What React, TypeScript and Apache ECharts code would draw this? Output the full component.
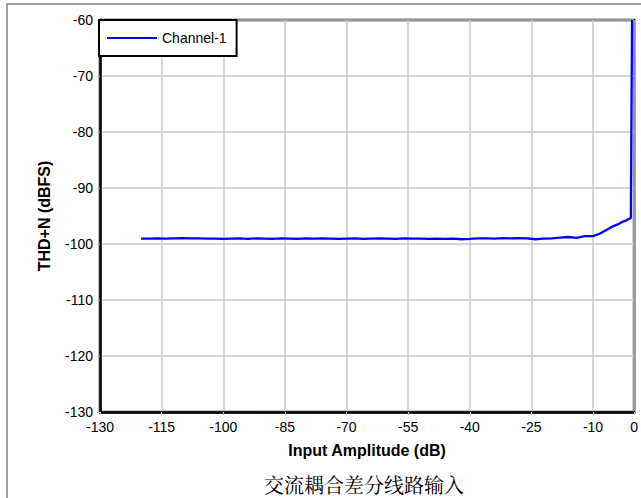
import React, { useEffect, useRef } from "react";
import * as echarts from "echarts";

// Input amplitude (dB) and THD+N (dBFS)
const inputAmplitude: number[] = [
  -120, -118, -116, -114, -112, -110, -108, -106, -104, -102,
  -100, -98, -96, -94, -92, -90, -88, -86, -84, -82,
  -80, -78, -76, -74, -72, -70, -68, -66, -64, -62,
  -60, -58, -56, -54, -52, -50, -48, -46, -44, -42,
  -40, -38, -36, -34, -32, -30, -28, -26, -24, -22,
  -20, -18, -16, -14, -12, -10, -8.5, -7, -6, -5,
  -4, -3, -2, -1.2, -0.8, -0.5,
];
const thdN: number[] = [
  -99.05, -99.05, -99.0, -99.05, -99.0, -98.95, -99.0, -99.0, -99.05, -99.05,
  -99.1, -99.05, -99.0, -99.1, -99.0, -99.05, -99.1, -99.0, -99.05, -99.1,
  -99.0, -99.05, -99.0, -99.05, -99.1, -99.05, -99.0, -99.1, -99.05, -99.0,
  -99.05, -99.1, -99.0, -99.05, -99.05, -99.1, -99.05, -99.1, -99.05, -99.15,
  -99.1, -99.0, -99.0, -99.05, -98.95, -99.0, -98.95, -99.0, -99.15, -99.05,
  -99.0, -98.85, -98.75, -98.9, -98.6, -98.6, -98.2, -97.6, -97.2, -96.8,
  -96.5, -96.1, -95.8, -95.5, -95.35, -60,
];

const seriesName = "Channel-1";
const xMinDb = -130;
const xMaxDb = 0;
const xStep = 15;
const yMin = -130;
const yMax = -60;
const yStep = 10;
const xAxisTitle = "Input Amplitude (dB)";
const yAxisTitle = "THD+N (dBFS)";
const caption = "交流耦合差分线路输入";

export default function App() {
  const ref = useRef<HTMLDivElement>(null);

  useEffect(() => {
    if (!ref.current) return;
    const chart = echarts.init(ref.current, null, { renderer: "svg" });
    // shift x by -xMinDb so ticks start at the axis minimum
    const data = inputAmplitude.map((x, i) => [x - xMinDb, thdN[i]]);
    const font = "'Liberation Sans', Arial, sans-serif";
    chart.setOption({
      animation: false,
      backgroundColor: "#fff",
      textStyle: { fontFamily: font },
      grid: {
        left: 100,
        right: 4,
        top: 20,
        bottom: 86,
        show: true,
        borderColor: "#000",
        borderWidth: 2.5,
        containLabel: false,
      },
      legend: {
        show: true,
        left: 99,
        top: 20,
        orient: "vertical",
        data: [{ name: seriesName, icon: "rect" }],
        itemWidth: 50,
        itemHeight: 2,
        borderColor: "#000",
        borderWidth: 2,
        padding: [11, 10, 11, 8],
        backgroundColor: "#fff",
        textStyle: { fontSize: 14, color: "#000", fontFamily: font, lineHeight: 14 },
      },
      xAxis: {
        type: "value",
        min: 0,
        max: xMaxDb - xMinDb,
        interval: xStep,
        name: xAxisTitle,
        nameLocation: "middle",
        nameGap: 30,
        nameTextStyle: { fontSize: 16, fontWeight: "bold", color: "#000", fontFamily: font },
        axisLine: { show: true, lineStyle: { color: "#000", width: 2.5 } },
        axisTick: { show: true, length: 3, lineStyle: { color: "#bbb" } },
        axisLabel: {
          fontSize: 14,
          color: "#000",
          margin: 8,
          formatter: (v: number) => String(Math.round(v + xMinDb)),
        },
        splitLine: { show: true, lineStyle: { color: "#c8c8c8", width: 1.5 } },
      },
      yAxis: {
        type: "value",
        min: yMin,
        max: yMax,
        interval: yStep,
        name: yAxisTitle,
        nameLocation: "middle",
        nameGap: 48,
        nameTextStyle: { fontSize: 16, fontWeight: "bold", color: "#000", fontFamily: font },
        axisLine: { show: true, lineStyle: { color: "#000", width: 2.5 } },
        axisTick: { show: true, length: 3, lineStyle: { color: "#bbb" } },
        axisLabel: { fontSize: 14, color: "#000", margin: 7 },
        splitLine: { show: true, lineStyle: { color: "#c8c8c8", width: 1.5 } },
      },
      series: [
        {
          name: seriesName,
          type: "line",
          data,
          symbol: "none",
          lineStyle: { color: "#0000ff", width: 2.3 },
          itemStyle: { color: "#0000ff" },
          z: 3,
        },
      ],
      graphic: [
        {
          type: "rect",
          shape: { x: 7, y: 4, width: 640, height: 500 },
          style: { fill: "none", stroke: "#808080", lineWidth: 1.5 },
          silent: true,
          z: 100,
        },
        {
          type: "text",
          x: 364,
          y: 484,
          style: {
            text: caption,
            fontSize: 20,
            lineHeight: 20,
            fill: "#000",
            fontFamily: "'Noto Serif CJK SC', 'Noto Sans CJK SC', serif",
            align: "center",
            verticalAlign: "middle",
          },
        },
      ],
    });
    return () => chart.dispose();
  }, []);

  return (
    <div
      ref={ref}
      style={{ position: "fixed", left: 0, top: 0, width: 641, height: 498 }}
    />
  );
}
